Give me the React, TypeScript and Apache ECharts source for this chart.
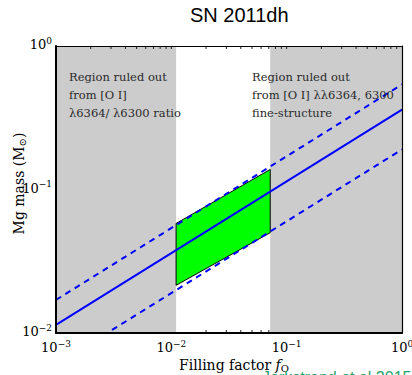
import React, { useEffect, useRef } from 'react';
import * as echarts from 'echarts';

const chartTitle = 'SN 2011dh';
const xRange = [0.001, 1];
const yRange = [0.01, 1];
const minorXTicks = [
  0.002, 0.003, 0.004, 0.005, 0.006, 0.007, 0.008, 0.009,
  0.01, 0.02, 0.03, 0.04, 0.05, 0.06, 0.07, 0.08, 0.09,
  0.1, 0.2, 0.3, 0.4, 0.5, 0.6, 0.7, 0.8, 0.9,
];
const excludedRanges = [
  [0.001, 0.011],
  [0.072, 1],
];
const solidLine = [
  [0.001, 0.0114],
  [1, 0.36],
];
const upperDashed = [
  [0.001, 0.017],
  [1, 0.54],
];
const lowerDashed = [
  [0.001, 0.006],
  [1, 0.19],
];
const allowedRegion = [
  [0.011, 0.058],
  [0.072, 0.138],
  [0.072, 0.05],
  [0.011, 0.0215],
];
const leftNote = ['Region ruled out', 'from [O I]', 'λ6364/ λ6300 ratio'];
const rightNote = ['Region ruled out', 'from [O I] λλ6364, 6300', 'fine-structure'];
const citation = 'Jerkstrand et al 2015';

const SERIF = '"DejaVu Serif", serif';

export default function App() {
  const ref = useRef<HTMLDivElement>(null);
  useEffect(() => {
    const chart = echarts.init(ref.current!, null, { renderer: 'svg' });
    const supLabel = (v: number) => {
      const e = Math.round(Math.log10(v));
      return `{b|10}{s|${e < 0 ? '−' + -e : e}}`;
    };
    const rich = {
      b: { fontSize: 13, lineHeight: 15, fontFamily: SERIF, color: '#000', verticalAlign: 'bottom' },
      s: { fontSize: 9, lineHeight: 10, fontFamily: SERIF, color: '#000', verticalAlign: 'top', padding: [0, 0, 10, 0] },
    };
    const tickSeries = (yVal: number, dir: number, z: number) => ({
      type: 'custom',
      coordinateSystem: 'cartesian2d',
      z,
      clip: false,
      silent: true,
      data: minorXTicks.map((v) => [v, yVal]),
      renderItem: (params: any, api: any) => {
        const p = api.coord([api.value(0), api.value(1)]);
        return {
          type: 'line',
          shape: { x1: p[0], y1: p[1], x2: p[0], y2: p[1] + dir * 3 },
          style: { stroke: '#222', lineWidth: 1 },
        };
      },
    });
    const noteText = (x: number, lines: string[]) =>
      lines.map((t, i) => ({
        type: 'text',
        x,
        y: 71 + i * 18,
        z: 20,
        style: { text: t, fill: '#2a2a2a', font: `11.5px ${SERIF}` },
      }));

    chart.setOption({
      animation: false,
      title: {
        text: chartTitle,
        left: 185,
        top: 0,
        textStyle: { fontFamily: '"Liberation Sans", Arial, sans-serif', fontSize: 20, fontWeight: 'normal', color: '#000' },
      },
      grid: { left: 56, right: 10, top: 46, bottom: 42, containLabel: false, outerBoundsMode: 'none' },
      xAxis: [
        {
          type: 'log',
          logBase: 10,
          min: xRange[0],
          max: xRange[1],
          z: 10,
          name: 'Filling factor {i|f}{sub|O}',
          nameLocation: 'middle',
          nameGap: 24,
          nameMoveOverlap: false,
          nameTextStyle: {
            fontFamily: SERIF,
            fontSize: 14,
            color: '#000',
            padding: [0, 0, 0, 10],
            rich: {
              i: { fontFamily: SERIF, fontStyle: 'italic', fontSize: 14, color: '#000' },
              sub: { fontFamily: SERIF, fontSize: 10, color: '#000', verticalAlign: 'bottom', padding: [6, 0, 0, 0] },
            },
          },
          axisLine: { show: true, lineStyle: { color: '#000', width: 2 } },
          axisTick: { show: false },
          splitLine: { show: false },
          axisLabel: { formatter: supLabel, rich, margin: 6 },
        },
        {
          type: 'log',
          logBase: 10,
          min: xRange[0],
          max: xRange[1],
          position: 'top',
          z: 10,
          axisLine: { show: true, lineStyle: { color: '#000', width: 1.2 } },
          axisTick: { show: false },
          axisLabel: { show: false },
          splitLine: { show: false },
        },
      ],
      yAxis: [
        {
          type: 'log',
          logBase: 10,
          min: yRange[0],
          max: yRange[1],
          z: 10,
          name: 'Mg mass (M{sub|⊙})',
          nameLocation: 'middle',
          nameGap: 29,
          nameMoveOverlap: false,
          nameTextStyle: {
            fontFamily: SERIF,
            fontSize: 14,
            color: '#000',
            padding: [0, 0, 0, 12],
            rich: {
              sub: { fontFamily: SERIF, fontSize: 10, color: '#000', verticalAlign: 'bottom', padding: [6, 0, 0, 0] },
            },
          },
          axisLine: { show: true, lineStyle: { color: '#000', width: 2 } },
          axisTick: { show: false },
          splitLine: { show: false },
          axisLabel: { formatter: supLabel, rich, margin: 4, padding: [0, 0, 5, 0] },
        },
        {
          type: 'log',
          logBase: 10,
          min: yRange[0],
          max: yRange[1],
          position: 'right',
          z: 10,
          axisLine: { show: true, lineStyle: { color: '#000', width: 1.2 } },
          axisTick: { show: false },
          axisLabel: { show: false },
          splitLine: { show: false },
        },
      ],
      series: [
        tickSeries(yRange[0], -1, 0),
        {
          type: 'custom',
          coordinateSystem: 'cartesian2d',
          z: 1,
          silent: true,
          data: excludedRanges,
          renderItem: (params: any, api: any) => {
            const p0 = api.coord([api.value(0), yRange[1]]);
            const p1 = api.coord([api.value(1), yRange[0]]);
            return {
              type: 'rect',
              shape: { x: p0[0], y: p0[1], width: p1[0] - p0[0], height: p1[1] - p0[1] },
              style: { fill: '#cccccc' },
            };
          },
        },
        {
          type: 'custom',
          coordinateSystem: 'cartesian2d',
          z: 2,
          silent: true,
          data: allowedRegion,
          renderItem: (params: any, api: any) => {
            if (params.dataIndex !== 0) return null;
            const points = allowedRegion.map((p) => api.coord(p));
            return {
              type: 'polygon',
              shape: { points },
              style: { fill: '#00ff00', stroke: '#000', lineWidth: 1 },
            };
          },
        },
        {
          type: 'line',
          data: solidLine,
          symbol: 'none',
          z: 3,
          lineStyle: { color: '#0000ff', width: 2 },
        },
        {
          type: 'line',
          data: upperDashed,
          symbol: 'none',
          z: 3,
          lineStyle: { color: '#0000ff', width: 2, type: [6, 5] },
        },
        {
          type: 'line',
          data: lowerDashed,
          symbol: 'none',
          z: 3,
          lineStyle: { color: '#0000ff', width: 2, type: [6, 5] },
        },
        tickSeries(yRange[1], 1, 5),
      ],
      graphic: [
        ...noteText(69, leftNote),
        ...noteText(252, rightNote),
        {
          type: 'text',
          x: 262,
          y: 369,
          z: 20,
          style: { text: citation, fill: '#1fa36b', font: '16px "Liberation Sans", Arial, sans-serif' },
        },
      ],
    });
    return () => chart.dispose();
  }, []);
  return <div ref={ref} style={{ position: 'absolute', left: 0, top: 0, width: 412, height: 375 }} />;
}
